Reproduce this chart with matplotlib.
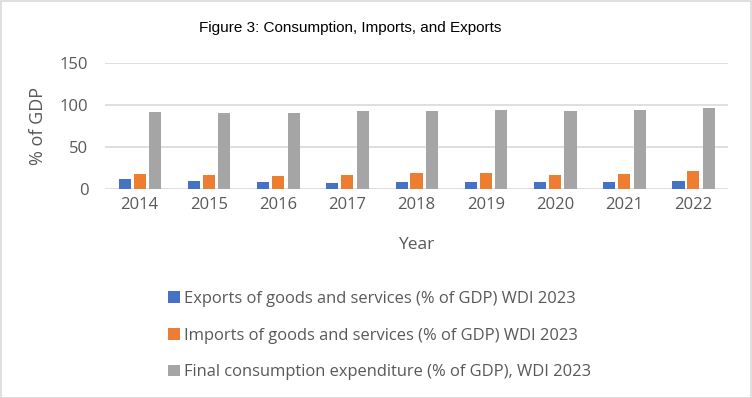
import matplotlib
matplotlib.use("Agg")
import matplotlib.pyplot as plt
import numpy as np
from matplotlib.patches import Rectangle

years = ["2014", "2015", "2016", "2017", "2018", "2019", "2020", "2021", "2022"]
exports = [11.6, 9.2, 8.0, 6.8, 8.0, 8.0, 8.0, 8.0, 9.2]
imports = [17.6, 16.4, 15.2, 16.4, 18.8, 18.8, 16.4, 17.6, 21.2]
consumption = [92.0, 90.8, 90.8, 93.2, 93.2, 94.4, 93.2, 94.4, 96.8]
series_names = [
    "Exports of goods and services (% of GDP) WDI 2023",
    "Imports of goods and services (% of GDP) WDI 2023",
    "Final consumption expenditure (% of GDP), WDI 2023",
]
colors = ["#4472C4", "#ED7D31", "#A5A5A5"]
yticks = [0, 50, 100, 150]

plt.rcParams['font.family'] = ['Open Sans', 'DejaVu Sans']
txt = "#595959"

fig = plt.figure(figsize=(7.52, 3.98), dpi=100)
W, H = 752, 398
ax = fig.add_axes([105 / W, 1 - 189 / H, (728 - 105) / W, (189 - 63) / H])

x = np.arange(len(years))
bw = 0.175
offs = [-0.215, 0.0, 0.225]
for vals, c, o, name in zip([exports, imports, consumption], colors, offs, series_names):
    ax.bar(x + o, vals, width=bw, color=c, label=name, zorder=3)

ax.set_xlim(-0.5, len(years) - 0.5)
ax.set_ylim(0, 150)
ax.set_yticks(yticks)
ax.set_xticks(x)
ax.set_xticklabels(years)
ax.grid(axis='y', color="#D9D9D9", lw=1.2, zorder=0)
for s in ax.spines.values():
    s.set_visible(False)
ax.tick_params(axis='both', length=0, labelsize=12, colors=txt)
ax.tick_params(axis='x', pad=6)
ax.tick_params(axis='y', pad=12)
ax.set_xlabel("Year", fontsize=12.5, color=txt, labelpad=17)
ax.set_ylabel("% of GDP", fontsize=13, color=txt, labelpad=9)

fig.text(350 / W, 1 - 28 / H, "Figure 3: Consumption, Imports, and Exports",
         ha='center', va='center', fontsize=11, color="black",
         family=['Liberation Sans Narrow', 'Liberation Sans', 'DejaVu Sans'])

handles, labels = ax.get_legend_handles_labels()
leg = fig.legend(handles, labels, loc='upper left', bbox_to_anchor=(168 / W, 1 - 291 / H),
                 frameon=False, fontsize=11.9, labelcolor=txt, handlelength=0.7,
                 handleheight=0.7, handletextpad=0.25, labelspacing=1.25,
                 borderpad=0, borderaxespad=0)

fig.add_artist(Rectangle((0.5 / W, 0.5 / H), 1 - 1.5 / W, 1 - 1.5 / H,
                         transform=fig.transFigure, fill=False,
                         edgecolor="#D9D9D9", lw=1.2))

fig.savefig("out.png", dpi=100)
